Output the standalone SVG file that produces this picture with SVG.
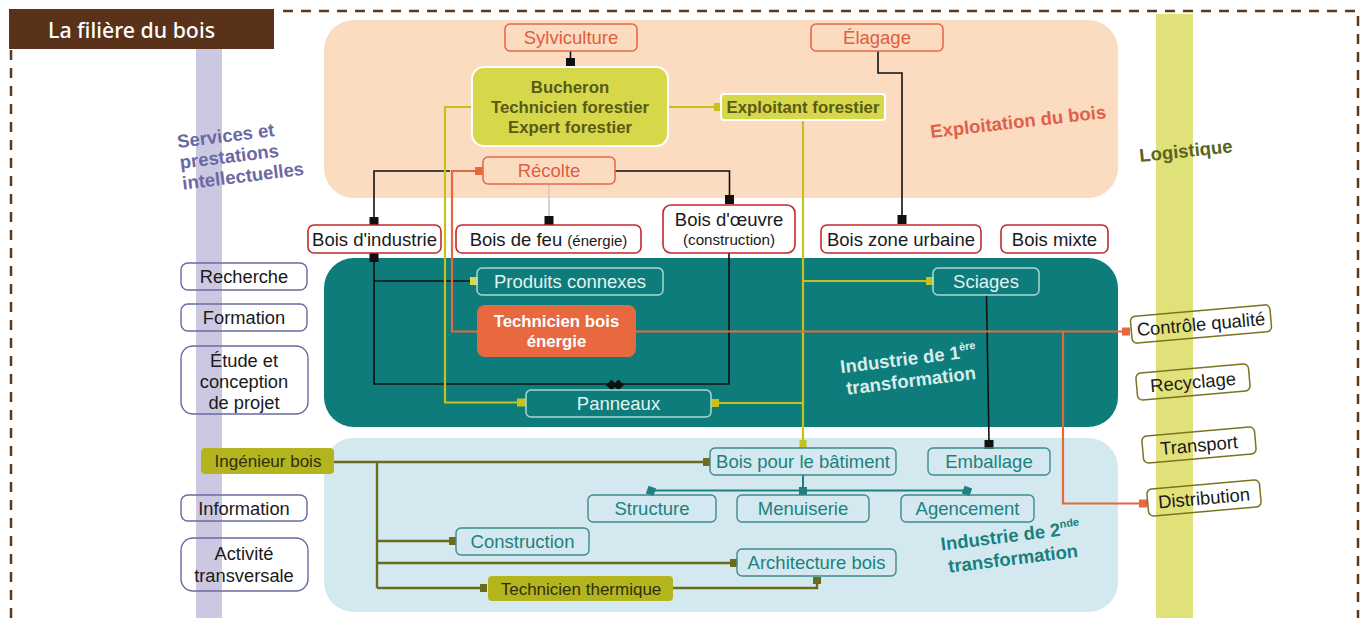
<svg xmlns="http://www.w3.org/2000/svg" width="1363" height="618" viewBox="0 0 1363 618">
<defs>
<style>
text{font-family:"Liberation Sans",Arial,sans-serif}
.frame{fill:none;stroke:#5a3a1e;stroke-width:2.5;stroke-dasharray:10 8}
.on{fill:none;stroke:#e5694a;stroke-width:1.6}
.ot{fill:#e25c3e;font-size:18.5px;text-anchor:middle}
.rn{fill:#fff;stroke:#c4262c;stroke-width:1.6}
.rt{fill:#1a1a1a;font-size:18.5px;text-anchor:middle}
.ln{fill:none;stroke:#6b6aa0;stroke-width:1.4}
.lt{fill:#1a1a1a;font-size:18.3px;text-anchor:middle}
.tn{fill:none;stroke:#a9d9d2;stroke-width:1.5}
.tt{fill:#e3f2f0;font-size:18.5px;text-anchor:middle}
.bn{fill:none;stroke:#3f8a8a;stroke-width:1.4}
.bt{fill:#1f7f7f;font-size:18.5px;text-anchor:middle}
.yn{fill:#d6d84a;stroke:#fff;stroke-width:2}
.yt{fill:#5a5a18;font-size:16.8px;font-weight:bold;text-anchor:middle}
.on2{fill:#b4b41e}
.ont{fill:#2f2f0c;font-size:17px;text-anchor:middle}
.gn{fill:none;stroke:#7a7322;stroke-width:1.5}
.gt{fill:#1a1a1a;font-size:18.4px;text-anchor:middle}
.rl{font-size:18.5px;font-weight:bold}
.cb{fill:none;stroke:#111;stroke-width:1.6}
.cy{fill:none;stroke:#c4c21e;stroke-width:2.2}
.co{fill:none;stroke:#e5683f;stroke-width:2.2}
.cl{fill:none;stroke:#6b6b1e;stroke-width:2.4}
.ct{fill:none;stroke:#1f7f7f;stroke-width:2}
.cg{fill:none;stroke:#c9c9c9;stroke-width:1.5}
.mb{fill:#111}
.my{fill:#c4c21e}
.mo{fill:#e5683f}
.ml{fill:#6b6b1e}
.mt{fill:#1f7f7f}
</style>
</defs>

<!-- frame and bands -->
<path class="frame" d="M283,11 H1358 V618 M11,50 V618"/>
<rect x="9" y="9" width="265" height="40" fill="#5a3219"/>
<text x="48" y="38" font-size="22" font-weight="500" fill="#fff" textLength="167" lengthAdjust="spacingAndGlyphs" style="font-family:'Noto Sans',sans-serif">La filière du bois</text>
<rect x="196" y="49" width="26" height="569" fill="#cdc8e2"/>
<rect x="1156" y="14" width="37" height="604" fill="#e1e17a"/>

<!-- regions -->
<rect x="324" y="20" width="794" height="178" rx="30" fill="#fbdcc1"/>
<rect x="324" y="258" width="794" height="169" rx="30" fill="#0e7c7b"/>
<rect x="324" y="438" width="794" height="174" rx="30" fill="#d3e9ef"/>

<!-- region labels -->
<g class="rl" fill="#6a69a3" transform="translate(178,148) rotate(-7)">
<text x="0" y="0">Services et</text>
<text x="0" y="21">prestations</text>
<text x="0" y="42">intellectuelles</text>
</g>
<text class="rl" transform="translate(931,138) rotate(-6.5)" fill="#e0604a">Exploitation du bois</text>
<text class="rl" transform="translate(1140,162) rotate(-6)" fill="#5b6420">Logistique</text>
<g class="rl" fill="#d8ecea" text-anchor="middle" transform="translate(909,365) rotate(-7)">
<text x="0" y="0">Industrie de 1<tspan font-size="11" dy="-8">ère</tspan></text>
<text x="0" y="22">transformation</text>
</g>
<g class="rl" fill="#188080" text-anchor="middle" transform="translate(1011,542) rotate(-7)">
<text x="0" y="0">Industrie de 2<tspan font-size="11" dy="-8">nde</tspan></text>
<text x="0" y="23">transformation</text>
</g>

<!-- connectors -->
<g id="connectors">
<!-- black -->
<path class="cb" d="M570.5,51 V60"/>
<rect class="mb" x="566" y="58" width="9" height="9"/>
<path class="cb" d="M878,51 V73 H902 V218"/>
<rect class="mb" x="897.5" y="215" width="9" height="9"/>
<path class="cb" d="M450,171 H374 V218"/>
<rect class="mb" x="369.5" y="217" width="9" height="9"/>
<path class="cg" d="M549,184 V218"/>
<rect class="mb" x="544.5" y="216" width="9" height="9"/>
<path class="cb" d="M615,171 H729.5 V198"/>
<rect class="mb" x="725" y="195" width="9" height="9"/>
<path class="cb" d="M374,253 V384 H627 M729,253 V384 H610 M374,281 H472"/>
<rect class="mb" x="369.5" y="253" width="9" height="9"/>
<path class="mb" d="M606,385 L611.5,379.5 L617,385 L611.5,390.5 Z M613,385 L618.5,379.5 L624,385 L618.5,390.5 Z"/>
<path class="cb" d="M986.5,295 L989,442"/>
<rect class="mb" x="984.5" y="440" width="9" height="9"/>
<!-- yellow -->
<path class="cy" d="M668,107 H716"/>
<rect class="my" x="714" y="103" width="7" height="8"/>
<path class="cy" d="M472,107 H445 V402.5 H520"/>
<rect class="my" x="517" y="398.5" width="9" height="8"/>
<rect x="470" y="277" width="8" height="8" fill="#d8d84a"/>
<path class="cy" d="M803,120 V442 M803,281 H928 M803,403 H716"/>
<rect class="my" x="926" y="277" width="8" height="8"/>
<rect class="my" x="711" y="399" width="8" height="8"/>
<rect class="my" x="799.5" y="440" width="7" height="8"/>
<!-- orange -->
<path class="co" d="M478,171 H452 V331.5 H477"/>
<rect class="mo" x="475" y="167" width="8" height="8"/>
<path class="co" d="M636,331.5 H1124 M1063,331.5 V503.5 H1141"/>
<rect class="mo" x="1122" y="327.5" width="8" height="8"/>
<rect class="mo" x="1139" y="499.5" width="8" height="8"/>
<!-- olive -->
<path class="cl" d="M334,462 H705 M377,462 V588 M377,541 H451 M377,563 H732 M377,588 H483 M673,588 H817 V579"/>
<rect class="ml" x="703" y="458" width="7" height="8"/>
<rect class="ml" x="449" y="537" width="7" height="8"/>
<rect class="ml" x="730" y="559" width="7" height="8"/>
<rect class="ml" x="480" y="584" width="7" height="8"/>
<rect class="ml" x="813" y="577" width="8" height="7"/>
<!-- teal -->
<path class="ct" d="M803,475 V490.5 M651,490.5 H967"/>
<rect class="mt" x="647" y="487" width="8" height="8" transform="rotate(20 651 491)"/>
<rect class="mt" x="799" y="487" width="8" height="8"/>
<rect class="mt" x="963" y="487" width="8" height="8" transform="rotate(20 967 491)"/>
</g>

<!-- peach region nodes -->
<g id="sylviculture"><rect class="on" x="505" y="24" width="132" height="27" rx="5"/><text class="ot" x="571" y="44">Sylviculture</text></g>
<g id="elagage"><rect class="on" x="811" y="24" width="132" height="27" rx="5"/><text class="ot" x="877" y="44">Élagage</text></g>
<g id="bucheron"><rect class="yn" x="472" y="67" width="196" height="79" rx="12"/>
<text class="yt" x="570" y="93">Bucheron</text><text class="yt" x="570" y="113">Technicien forestier</text><text class="yt" x="570" y="133">Expert forestier</text></g>
<g id="exploitant"><rect class="yn" x="721" y="94" width="164" height="26" rx="3"/><text class="yt" x="803" y="113">Exploitant forestier</text></g>
<g id="recolte"><rect class="on" x="483" y="157" width="132" height="27" rx="5"/><text class="ot" x="549" y="177">Récolte</text></g>

<!-- red row -->
<g id="bois-industrie"><rect class="rn" x="308" y="225" width="133" height="28" rx="6"/><text class="rt" x="374.5" y="245.5">Bois d'industrie</text></g>
<g id="bois-feu"><rect class="rn" x="456" y="225" width="185" height="28" rx="6"/><text class="rt" x="548.5" y="245.5">Bois de feu <tspan font-size="15">(énergie)</tspan></text></g>
<g id="bois-oeuvre"><rect class="rn" x="663" y="205" width="132" height="48" rx="8"/><text class="rt" x="729" y="226">Bois d'œuvre</text><text class="rt" x="729" y="245" style="font-size:15.2px">(construction)</text></g>
<g id="bois-urbaine"><rect class="rn" x="821" y="225" width="160" height="28" rx="6"/><text class="rt" x="901" y="245.5">Bois zone urbaine</text></g>
<g id="bois-mixte"><rect class="rn" x="1001" y="225" width="107" height="28" rx="6"/><text class="rt" x="1054.5" y="245.5">Bois mixte</text></g>

<!-- left column -->
<g id="recherche"><rect class="ln" x="181" y="263" width="126" height="27" rx="7"/><text class="lt" x="244" y="283">Recherche</text></g>
<g id="formation"><rect class="ln" x="181" y="304" width="126" height="27" rx="7"/><text class="lt" x="244" y="324">Formation</text></g>
<g id="etude"><rect class="ln" x="181" y="346" width="127" height="68" rx="12"/><text class="lt" x="244" y="366.5">Étude et</text><text class="lt" x="244" y="387.5">conception</text><text class="lt" x="244" y="408.5">de projet</text></g>
<g id="information"><rect class="ln" x="181" y="495" width="126" height="26" rx="7"/><text class="lt" x="244" y="514.5">Information</text></g>
<g id="activite"><rect class="ln" x="181" y="538" width="127" height="53" rx="12"/><text class="lt" x="244" y="560">Activité</text><text class="lt" x="244" y="582">transversale</text></g>

<!-- teal region -->
<g id="produits"><rect class="tn" x="477" y="268" width="186" height="27" rx="5"/><text class="tt" x="570" y="288">Produits connexes</text></g>
<g id="sciages"><rect class="tn" x="933" y="268" width="106" height="27" rx="5"/><text class="tt" x="986" y="288">Sciages</text></g>
<g id="tech-energie"><rect x="477" y="305" width="159" height="52" rx="8" fill="#e8683f"/><text x="556.5" y="327" fill="#fff" font-size="16.8" font-weight="bold" text-anchor="middle">Technicien bois</text><text x="556.5" y="347" fill="#fff" font-size="16.8" font-weight="bold" text-anchor="middle">énergie</text></g>
<g id="panneaux"><rect class="tn" x="526" y="390" width="185" height="27" rx="5"/><text class="tt" x="618.5" y="410">Panneaux</text></g>

<!-- light blue region -->
<g id="ingenieur"><rect class="on2" x="201" y="448" width="133" height="26" rx="4"/><text class="ont" x="268" y="467">Ingénieur bois</text></g>
<g id="batiment"><rect class="bn" x="710" y="448" width="186" height="27" rx="5"/><text class="bt" x="803" y="468">Bois pour le bâtiment</text></g>
<g id="emballage"><rect class="bn" x="928" y="448" width="122" height="27" rx="5"/><text class="bt" x="989" y="468">Emballage</text></g>
<g id="structure"><rect class="bn" x="588" y="495" width="128" height="27" rx="5"/><text class="bt" x="652" y="515">Structure</text></g>
<g id="menuiserie"><rect class="bn" x="737" y="495" width="132" height="27" rx="5"/><text class="bt" x="803" y="515">Menuiserie</text></g>
<g id="agencement"><rect class="bn" x="901" y="495" width="133" height="27" rx="5"/><text class="bt" x="967.5" y="515">Agencement</text></g>
<g id="construction"><rect class="bn" x="456" y="528" width="133" height="27" rx="5"/><text class="bt" x="522.5" y="548">Construction</text></g>
<g id="architecture"><rect class="bn" x="737" y="549" width="159" height="27" rx="5"/><text class="bt" x="816.5" y="569">Architecture bois</text></g>
<g id="thermique"><rect class="on2" x="488" y="576" width="185" height="25" rx="4"/><text class="ont" x="581" y="594.5">Technicien thermique</text></g>

<!-- right column -->
<g id="controle" transform="rotate(-5 1201 324)"><rect class="gn" x="1131" y="310.5" width="140" height="27" rx="5"/><text class="gt" x="1201" y="330.5">Contrôle qualité</text></g>
<g id="recyclage" transform="rotate(-5 1193 382)"><rect class="gn" x="1136.5" y="368.5" width="113" height="27" rx="5"/><text class="gt" x="1193" y="388.5">Recyclage</text></g>
<g id="transport" transform="rotate(-5 1199 445)"><rect class="gn" x="1142.5" y="431.5" width="113" height="27" rx="5"/><text class="gt" x="1199" y="451.5">Transport</text></g>
<g id="distribution" transform="rotate(-5 1204 498)"><rect class="gn" x="1147.5" y="484.5" width="113" height="27" rx="5"/><text class="gt" x="1204" y="504.5">Distribution</text></g>
</svg>
